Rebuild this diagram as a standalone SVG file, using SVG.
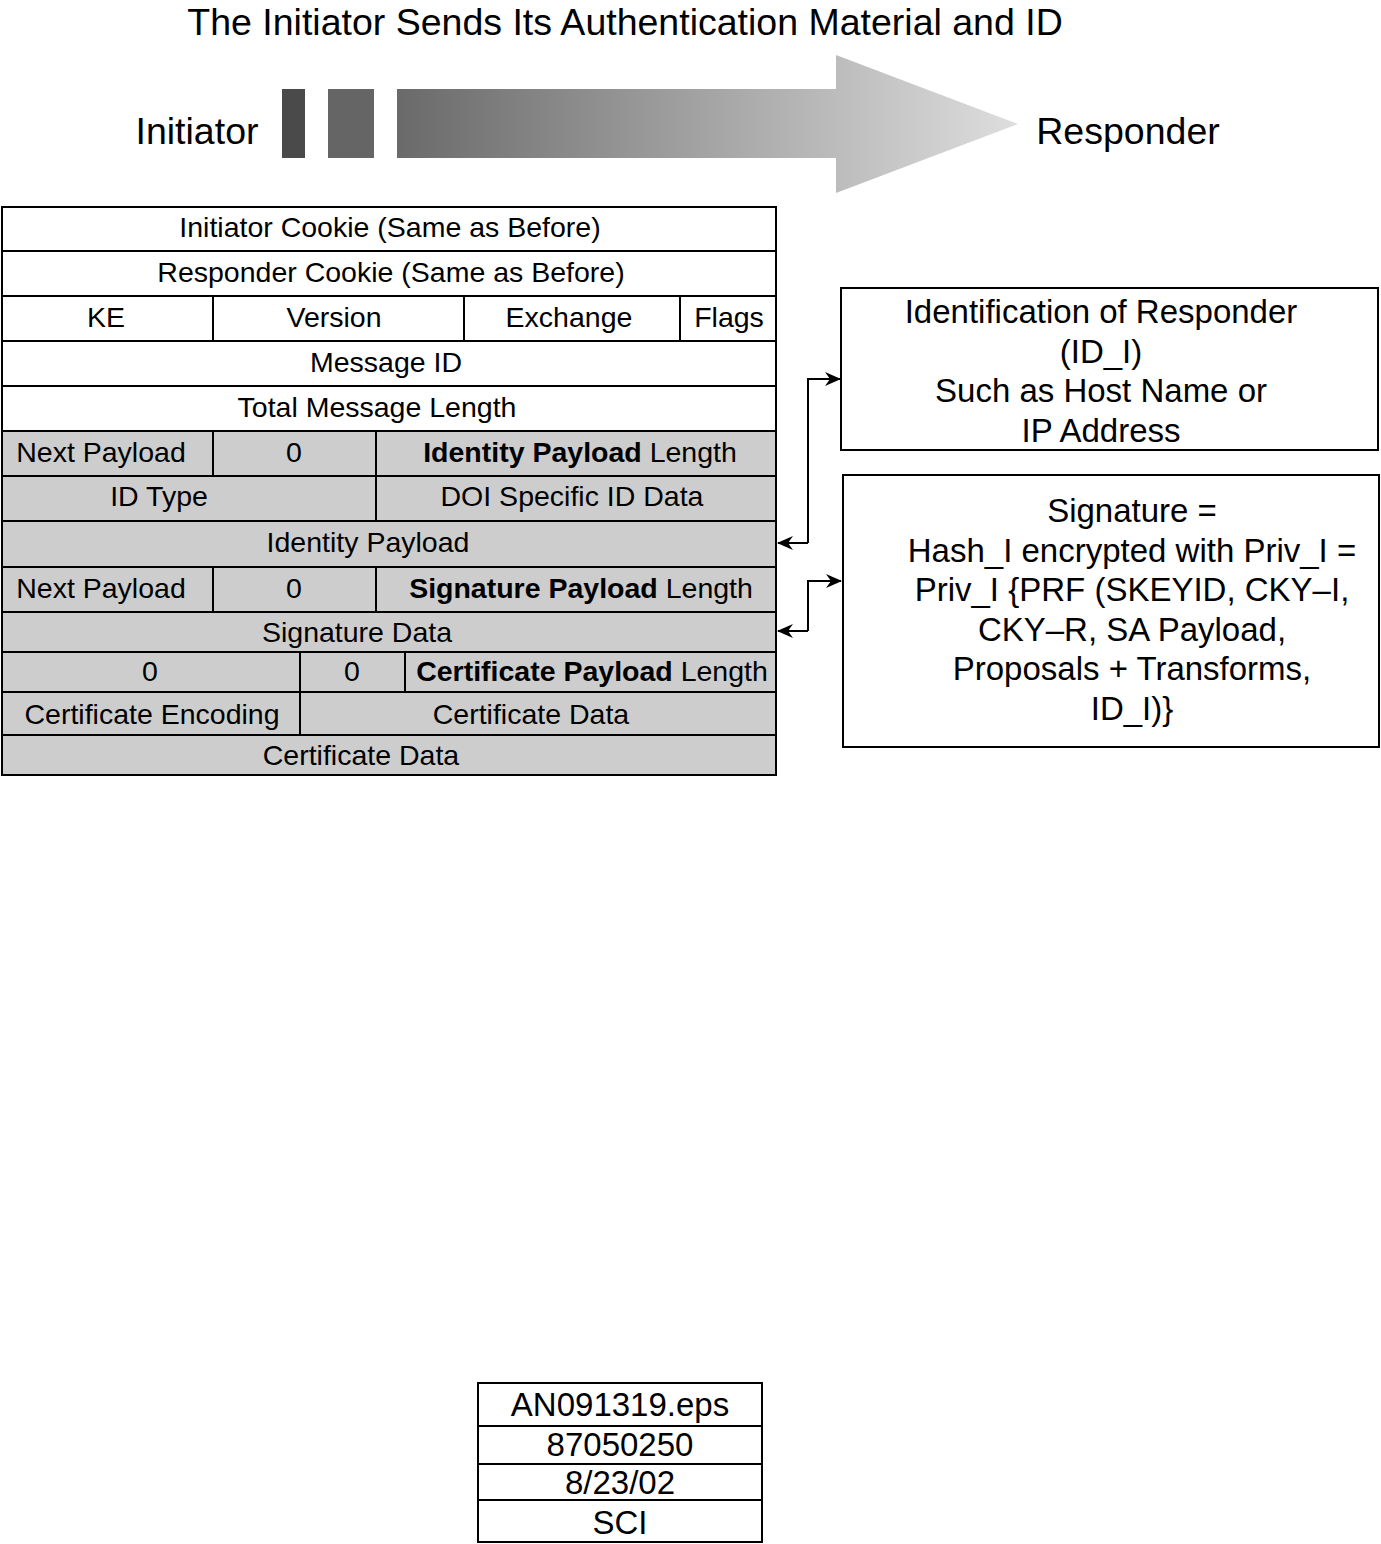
<svg xmlns="http://www.w3.org/2000/svg" width="1381" height="1544" viewBox="0 0 1381 1544">
<style>
text{font-family:"Liberation Sans",Arial,sans-serif;fill:#000;text-anchor:middle}
.t{font-size:28.5px}
.b{font-weight:bold}
.big{font-size:37.5px}
.box{font-size:33px}
.w{fill:#fff;stroke:#000;stroke-width:2}
.g{fill:#cdcdcd;stroke:#000;stroke-width:2}
.ln{stroke:#000;stroke-width:2;fill:none}
.cn{stroke:#000;stroke-width:2;fill:none;marker-end:url(#ah)}
</style>
<defs>
<linearGradient id="grad" gradientUnits="userSpaceOnUse" x1="397" y1="0" x2="1018" y2="0">
<stop offset="0" stop-color="#6a6a6a"/>
<stop offset="1" stop-color="#dedede"/>
</linearGradient>
<marker id="ah" markerWidth="16" markerHeight="14" refX="15" refY="7" orient="auto" markerUnits="userSpaceOnUse">
<path d="M0,0 L16,7 L0,14 L5,7 z" fill="#000"/>
</marker>
</defs>
<rect width="1381" height="1544" fill="#fff"/>
<g id="title">
<text class="big" x="625" y="35">The Initiator Sends Its Authentication Material and ID</text>
</g>
<g id="flow-arrow">
<text class="big" x="197" y="144">Initiator</text>
<rect x="282" y="89" width="23" height="69" fill="#4a4a4a"/>
<rect x="328" y="89" width="46" height="69" fill="#656565"/>
<path d="M397,89 L836,89 L836,55 L1018,124 L836,193 L836,158 L397,158 Z" fill="url(#grad)"/>
<text class="big" x="1128" y="144">Responder</text>
</g>
<g id="header-table">
<rect class="w" x="2" y="207" width="774" height="44"/>
<text class="t" x="390" y="237">Initiator Cookie (Same as Before)</text>
<rect class="w" x="2" y="251" width="774" height="45"/>
<text class="t" x="391" y="282">Responder Cookie (Same as Before)</text>
<rect class="w" x="2" y="296" width="774" height="45"/>
<line class="ln" x1="213" y1="296" x2="213" y2="341"/>
<line class="ln" x1="464" y1="296" x2="464" y2="341"/>
<line class="ln" x1="680" y1="296" x2="680" y2="341"/>
<text class="t" x="106" y="327">KE</text>
<text class="t" x="334" y="327">Version</text>
<text class="t" x="569" y="327">Exchange</text>
<text class="t" x="729" y="327">Flags</text>
<rect class="w" x="2" y="341" width="774" height="45"/>
<text class="t" x="386" y="372">Message ID</text>
<rect class="w" x="2" y="386" width="774" height="45"/>
<text class="t" x="377" y="417">Total Message Length</text>
</g>
<g id="identity-payload">
<rect class="g" x="2" y="431" width="774" height="45"/>
<line class="ln" x1="213" y1="431" x2="213" y2="476"/>
<line class="ln" x1="376" y1="431" x2="376" y2="476"/>
<text class="t" x="101" y="462">Next Payload</text>
<text class="t" x="294" y="462">0</text>
<text class="t" x="580" y="462"><tspan class="b">Identity Payload</tspan> Length</text>
<rect class="g" x="2" y="476" width="774" height="45"/>
<line class="ln" x1="376" y1="476" x2="376" y2="521"/>
<text class="t" x="159" y="506">ID Type</text>
<text class="t" x="572" y="506">DOI Specific ID Data</text>
<rect class="g" x="2" y="521" width="774" height="46"/>
<text class="t" x="368" y="552">Identity Payload</text>
</g>
<g id="signature-payload">
<rect class="g" x="2" y="567" width="774" height="45"/>
<line class="ln" x1="213" y1="567" x2="213" y2="612"/>
<line class="ln" x1="376" y1="567" x2="376" y2="612"/>
<text class="t" x="101" y="598">Next Payload</text>
<text class="t" x="294" y="598">0</text>
<text class="t" x="581" y="598"><tspan class="b">Signature Payload</tspan> Length</text>
<rect class="g" x="2" y="612" width="774" height="40"/>
<text class="t" x="357" y="642">Signature Data</text>
</g>
<g id="certificate-payload">
<rect class="g" x="2" y="652" width="774" height="40"/>
<line class="ln" x1="300" y1="652" x2="300" y2="692"/>
<line class="ln" x1="405" y1="652" x2="405" y2="692"/>
<text class="t" x="150" y="681">0</text>
<text class="t" x="352" y="681">0</text>
<text class="t" x="592" y="681"><tspan class="b">Certificate Payload</tspan> Length</text>
<rect class="g" x="2" y="692" width="774" height="43"/>
<line class="ln" x1="300" y1="692" x2="300" y2="735"/>
<text class="t" x="152" y="724">Certificate Encoding</text>
<text class="t" x="531" y="724">Certificate Data</text>
<rect class="g" x="2" y="735" width="774" height="40"/>
<text class="t" x="361" y="765">Certificate Data</text>
</g>
<g id="id-note">
<rect class="w" x="841" y="288" width="537" height="162"/>
<text class="box" x="1101" y="323">Identification of Responder</text>
<text class="box" x="1101" y="363">(ID_I)</text>
<text class="box" x="1101" y="402">Such as Host Name or</text>
<text class="box" x="1101" y="442">IP Address</text>
</g>
<g id="sig-note">
<rect class="w" x="843" y="475" width="536" height="272"/>
<text class="box" x="1132" y="522">Signature =</text>
<text class="box" x="1132" y="562">Hash_I encrypted with Priv_I =</text>
<text class="box" x="1132" y="601">Priv_I {PRF (SKEYID, CKY–I,</text>
<text class="box" x="1132" y="641">CKY–R, SA Payload,</text>
<text class="box" x="1132" y="680">Proposals + Transforms,</text>
<text class="box" x="1132" y="720">ID_I)}</text>
</g>
<g id="connectors">
<path class="cn" d="M808,543 L808,379 L840,379"/>
<path class="cn" d="M808,543 L778,543"/>
<path class="cn" d="M808,631 L808,581 L841,581"/>
<path class="cn" d="M808,631 L778,631"/>
</g>
<g id="file-label">
<rect class="w" x="478" y="1383" width="284" height="43"/>
<text class="box" x="620" y="1416">AN091319.eps</text>
<rect class="w" x="478" y="1426" width="284" height="38"/>
<text class="box" x="620" y="1456">87050250</text>
<rect class="w" x="478" y="1464" width="284" height="36"/>
<text class="box" x="620" y="1494">8/23/02</text>
<rect class="w" x="478" y="1500" width="284" height="42"/>
<text class="box" x="620" y="1534">SCI</text>
</g>
</svg>
